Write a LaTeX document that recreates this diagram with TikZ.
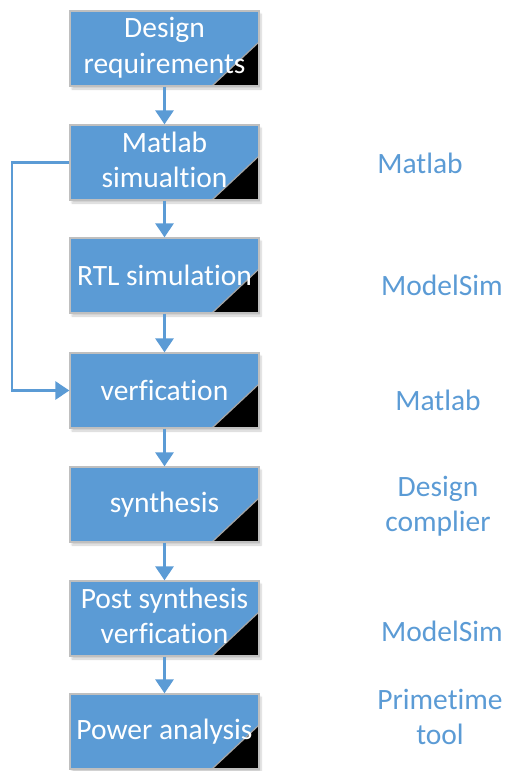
\documentclass[tikz,border=0pt]{standalone}
\usepackage{fontspec}
\setmainfont{Carlito}[Ligatures={NoCommon}]
\usetikzlibrary{arrows.meta,shadows.blur}
\definecolor{boxblue}{HTML}{5B9BD5}
\definecolor{boxedge}{HTML}{BFBFBF}
\tikzset{
  stepbox/.style={draw=boxedge, line width=1.2pt, fill=boxblue, text=white,
    minimum width=189pt, minimum height=75pt, inner sep=0pt, align=center,
    font=\fontsize{29.5}{35}\selectfont,
    blur shadow={shadow xshift=2pt, shadow yshift=-3pt, shadow blur steps=6, shadow opacity=20},
    path picture={
      \fill[black] (path picture bounding box.south east) -- ([xshift=-47pt]path picture bounding box.south east) -- ([yshift=44pt]path picture bounding box.south east) -- cycle;
      \draw[gray!70, line width=1.2pt] ([xshift=-47pt]path picture bounding box.south east) -- ([yshift=44pt]path picture bounding box.south east);
    }},
  toollabel/.style={text=boxblue, align=center, font=\fontsize{29.5}{35}\selectfont, inner sep=0pt},
  flow/.style={draw=boxblue, line width=2.5pt, -{Triangle[length=14pt,width=18pt]}}
}
\begin{document}
\begin{tikzpicture}[x=1pt,y=-1pt]
\useasboundingbox (0,0) rectangle (507,771);
\node[stepbox] (n1) at (164.5,48.5) {\raisebox{-4pt}{\begin{tabular}{@{}c@{}}Design\\requirements\end{tabular}}};
\node[stepbox] (n2) at (164.5,162.5) {\raisebox{-4pt}{\begin{tabular}{@{}c@{}}Matlab\\simualtion\end{tabular}}};
\node[stepbox] (n3) at (164.5,275.5) {RTL simulation};
\node[stepbox] (n4) at (164.5,390.5) {verfication};
\node[stepbox] (n5) at (164.5,504.5) {synthesis};
\node[stepbox] (n6) at (164.5,618.5) {\raisebox{-4pt}{\begin{tabular}{@{}c@{}}Post synthesis\\verfication\end{tabular}}};
\node[stepbox] (n7) at (164.5,731.5) {Power analysis};
\draw[flow] (n1.south) -- (n2.north);
\draw[flow] (n2.south) -- (n3.north);
\draw[flow] (n3.south) -- (n4.north);
\draw[flow] (n4.south) -- (n5.north);
\draw[flow] (n5.south) -- (n6.north);
\draw[flow] (n6.south) -- (n7.north);
\coordinate (fb) at (12,162.5);
\draw[flow] (n2.west) -- (fb) |- (n4.west);
\node[toollabel] (t2) at (420,163) {Matlab};
\node[toollabel] (t3) at (442,285) {ModelSim};
\node[toollabel] (t4) at (438,400) {Matlab};
\node[toollabel] (t5) at (438,506) {Design\\complier};
\node[toollabel] (t6) at (442,631) {ModelSim};
\node[toollabel] (t7) at (440,717) {Primetime\\tool};
\end{tikzpicture}
\end{document}
